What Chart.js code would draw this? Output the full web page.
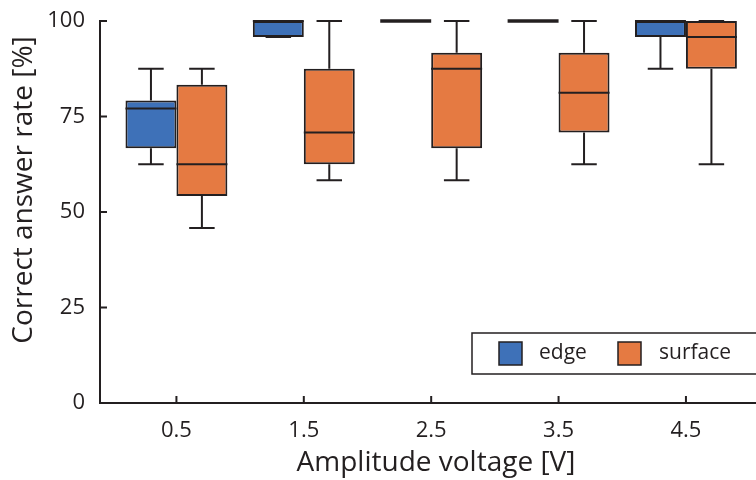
<!DOCTYPE html>
<html>
<head>
<meta charset="utf-8">
<script src="https://cdn.jsdelivr.net/npm/chart.js@4"></script>
<style>
  html, body { margin: 0; padding: 0; background: #fff; }
  #wrap { width: 756px; height: 480px; }
</style>
</head>
<body>
<div id="wrap"><canvas id="boxChart" width="756" height="480"></canvas></div>
<script>
// x positions (amplitude voltage) and tick labels
const voltages = [0.5, 1.5, 2.5, 3.5, 4.5];
const yTicks = [0, 25, 50, 75, 100];

// box plot stats per voltage: min, q1, median, q3, max
const edgeMin = [62.5, 95.83, 100, 100, 87.5];
const edgeQ1 = [66.67, 95.83, 100, 100, 95.83];
const edgeMed = [77.08, 100, 100, 100, 100];
const edgeQ3 = [79.17, 100, 100, 100, 100];
const edgeMax = [87.5, 100, 100, 100, 100];

const surfMin = [45.83, 58.33, 58.33, 62.5, 62.5];
const surfQ1 = [54.17, 62.5, 66.67, 70.83, 87.5];
const surfMed = [62.5, 70.83, 87.5, 81.25, 95.83];
const surfQ3 = [83.33, 87.5, 91.67, 91.67, 100];
const surfMax = [87.5, 100, 100, 100, 100];

const ink = "#231f20";
const fontFamily = "'Open Sans', 'Noto Sans', sans-serif";

const stats = [
  { min: edgeMin, q1: edgeQ1, med: edgeMed, q3: edgeQ3, max: edgeMax },
  { min: surfMin, q1: surfQ1, med: surfMed, q3: surfQ3, max: surfMax },
];

// whiskers, medians, inward ticks, axis titles and the legend box
const boxExtras = {
  id: "boxExtras",
  afterDatasetsDraw(chart) {
    const ctx = chart.ctx;
    const yScale = chart.scales.y;
    ctx.save();
    ctx.strokeStyle = ink;
    stats.forEach((s, di) => {
      const meta = chart.getDatasetMeta(di);
      meta.data.forEach((bar, i) => {
        const x = bar.x;
        const w = bar.width;
        const yMin = yScale.getPixelForValue(s.min[i]);
        const yMax = yScale.getPixelForValue(s.max[i]);
        const yQ1 = yScale.getPixelForValue(s.q1[i]);
        const yQ3 = yScale.getPixelForValue(s.q3[i]);
        const yMed = yScale.getPixelForValue(s.med[i]);
        ctx.lineWidth = 2;
        ctx.beginPath();
        if (s.max[i] > s.q3[i]) {
          ctx.moveTo(x, yQ3);
          ctx.lineTo(x, yMax);
        }
        if (s.min[i] < s.q1[i]) {
          ctx.moveTo(x, yQ1);
          ctx.lineTo(x, yMin);
        }
        ctx.stroke();
        // caps
        ctx.beginPath();
        ctx.moveTo(x - w / 4, yMax);
        ctx.lineTo(x + w / 4, yMax);
        ctx.moveTo(x - w / 4, yMin);
        ctx.lineTo(x + w / 4, yMin);
        ctx.stroke();
        // median
        ctx.lineWidth = s.q1[i] === s.q3[i] ? 3.5 : 2;
        ctx.beginPath();
        ctx.moveTo(x - w / 2, yMed);
        ctx.lineTo(x + w / 2, yMed);
        ctx.stroke();
      });
    });
    ctx.restore();
  },
  afterDraw(chart) {
    const ctx = chart.ctx;
    const area = chart.chartArea;
    const xScale = chart.scales.x;
    const yScale = chart.scales.y;
    ctx.save();
    ctx.strokeStyle = ink;
    ctx.lineWidth = 2;
    // inward ticks
    ctx.beginPath();
    yTicks.forEach((v) => {
      const y = yScale.getPixelForValue(v);
      ctx.moveTo(area.left, y);
      ctx.lineTo(area.left + 7, y);
    });
    voltages.forEach((v) => {
      const x = xScale.getPixelForValue(v);
      ctx.moveTo(x, area.bottom);
      ctx.lineTo(x, area.bottom - 7);
    });
    ctx.stroke();

    // axis titles
    ctx.fillStyle = ink;
    ctx.font = "28px " + fontFamily;
    ctx.textAlign = "center";
    ctx.textBaseline = "middle";
    ctx.fillText("Amplitude voltage [V]", 436, 463);
    ctx.save();
    ctx.translate(24, 190);
    ctx.rotate(-Math.PI / 2);
    ctx.fillText("Correct answer rate [%]", 0, 0);
    ctx.restore();

    // legend
    const lx = 472, ly = 333, lw = 290, lh = 41;
    ctx.fillStyle = "#fff";
    ctx.fillRect(lx, ly, lw, lh);
    ctx.lineWidth = 1.5;
    ctx.strokeRect(lx, ly, lw, lh);
    const items = [
      { sx: 499, tx: 539 },
      { sx: 618, tx: 659 },
    ];
    ctx.font = "21px " + fontFamily;
    ctx.textAlign = "left";
    chart.data.datasets.forEach((ds, i) => {
      const it = items[i];
      ctx.fillStyle = ds.backgroundColor;
      ctx.fillRect(it.sx, ly + 9, 23, 23);
      ctx.strokeRect(it.sx, ly + 9, 23, 23);
      ctx.fillStyle = ink;
      ctx.fillText(ds.label, it.tx, ly + lh / 2);
    });
    ctx.restore();
  },
};

const ctx = document.getElementById("boxChart").getContext("2d");
new Chart(ctx, {
  type: "bar",
  data: {
    datasets: [
      {
        label: "edge",
        data: voltages.map((v, i) => ({ x: v, y: [edgeQ1[i], edgeQ3[i]] })),
        backgroundColor: "#3e71b8",
        borderColor: ink,
        borderWidth: 2,
        borderSkipped: false,
        clip: false,
      },
      {
        label: "surface",
        data: voltages.map((v, i) => ({ x: v, y: [surfQ1[i], surfQ3[i]] })),
        backgroundColor: "#e57a42",
        borderColor: ink,
        borderWidth: 2,
        borderSkipped: false,
        clip: false,
      },
    ],
  },
  options: {
    responsive: false,
    animation: false,
    categoryPercentage: 0.8,
    barPercentage: 1.0,
    layout: { padding: { top: 21, right: 0, left: 0, bottom: 0 } },
    plugins: {
      legend: { display: false },
      tooltip: { enabled: false },
    },
    scales: {
      x: {
        type: "linear",
        offset: false,
        min: -0.1,
        max: 5.05,
        afterBuildTicks: (scale) => {
          scale.ticks = voltages.map((v) => ({ value: v }));
        },
        afterFit: (scale) => {
          scale.height = 77;
          scale.paddingLeft = 0;
          scale.paddingRight = 0;
        },
        ticks: {
          callback: (v) => v.toFixed(1),
          color: ink,
          font: { family: fontFamily, size: 22 },
          padding: 15,
          maxRotation: 0,
        },
        grid: { drawOnChartArea: false, drawTicks: false, offset: false },
        border: { display: true, color: ink, width: 2 },
      },
      y: {
        min: 0,
        max: 100,
        afterBuildTicks: (scale) => {
          scale.ticks = yTicks.map((v) => ({ value: v }));
        },
        afterFit: (scale) => {
          scale.width = 100;
          scale.paddingTop = 0;
          scale.paddingBottom = 0;
        },
        ticks: {
          color: ink,
          font: { family: fontFamily, size: 22 },
          padding: 15,
        },
        grid: { drawOnChartArea: false, drawTicks: false },
        border: { display: true, color: ink, width: 2 },
      },
    },
  },
  plugins: [boxExtras],
});
</script>
</body>
</html>
